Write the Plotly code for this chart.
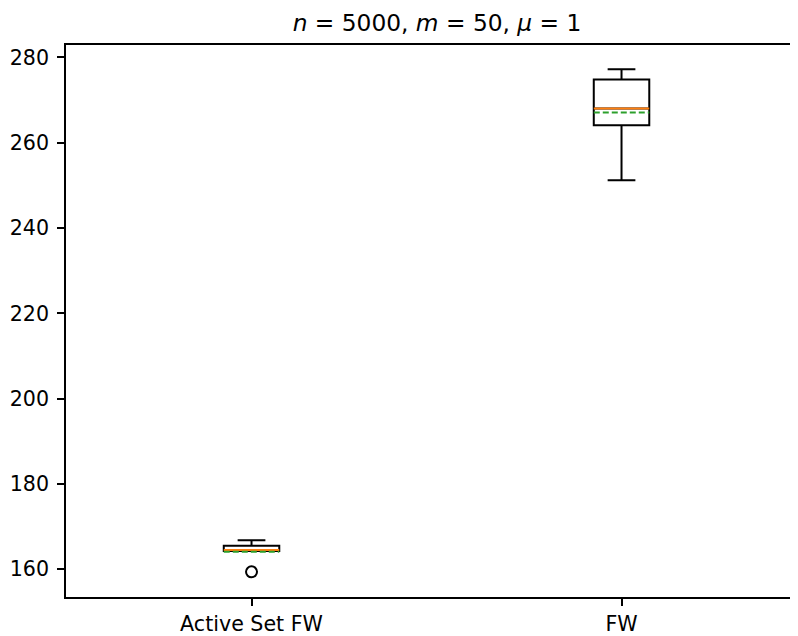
import plotly.graph_objects as go

# Data
categories = ["Active Set FW", "FW"]
positions = [1, 2]
q1 = [164.3, 264.1]
median = [164.5, 268.0]
q3 = [165.5, 274.8]
lower = [164.3, 251.2]
upper = [166.8, 277.2]
means = [164.1, 267.1]
outlier_pos = [1]
outlier_val = [159.4]
y_ticks = [160, 180, 200, 220, 240, 260, 280]

BOX_W = 0.15
FONT = "DejaVu Sans"

# The page body has an 8px default margin, so the figure is drawn 8px smaller
W, H = 790, 628
L, T, B = 58, 37, 39
PX_PER_UNIT = 370.0
X0 = 0.4986
X1 = X0 + (W - L) / PX_PER_UNIT

fig = go.Figure()

for i, p in enumerate(positions):
    fig.add_trace(go.Box(
        x=[p], q1=[q1[i]], median=[median[i]], q3=[q3[i]],
        lowerfence=[lower[i]], upperfence=[upper[i]],
        width=BOX_W, whiskerwidth=0.5,
        line=dict(color="black", width=2),
        fillcolor="rgba(0,0,0,0)",
        boxpoints=False, showlegend=False, hoverinfo="skip",
    ))
    fig.add_trace(go.Scatter(
        x=[p - BOX_W / 2, p + BOX_W / 2], y=[median[i], median[i]],
        mode="lines", line=dict(color="#ff7f0e", width=2),
        showlegend=False, hoverinfo="skip",
    ))
    fig.add_trace(go.Scatter(
        x=[p - BOX_W / 2, p + BOX_W / 2], y=[means[i], means[i]],
        mode="lines", line=dict(color="#2ca02c", width=2, dash="6px,3px"),
        showlegend=False, hoverinfo="skip",
    ))

fig.add_trace(go.Scatter(
    x=outlier_pos, y=outlier_val, mode="markers",
    marker=dict(symbol="circle-open", size=11, color="black", line=dict(width=2)),
    showlegend=False, hoverinfo="skip",
))

fig.update_layout(
    width=W, height=H,
    margin=dict(l=L, r=0, t=T, b=B, autoexpand=False),
    paper_bgcolor="white", plot_bgcolor="white",
    font=dict(family=FONT, size=20.6, color="black"),
    title=dict(
        text="<i>n</i> = 5000, <i>m</i> = 50, <i>μ</i> = 1",
        x=(437 - 8 - L) / (W - L), xanchor="center", xref="paper",
        y=1 - 15 / H, yanchor="middle", yref="container",
        font=dict(family=FONT, size=23.3, color="black"),
        automargin=False,
    ),
    xaxis=dict(
        range=[X0, X1], automargin=False,
        tickmode="array", tickvals=positions, ticktext=categories,
        ticks="outside", ticklen=7, tickwidth=1.6, tickcolor="black",
        showline=True, linecolor="black", linewidth=1.6, mirror=True,
        showgrid=False, zeroline=False, ticklabelstandoff=0,
    ),
    yaxis=dict(
        range=[153.5, 282.9], automargin=False,
        tickmode="array", tickvals=y_ticks,
        ticks="outside", ticklen=7, tickwidth=1.6, tickcolor="black",
        showline=True, linecolor="black", linewidth=1.6, mirror=False,
        showgrid=False, zeroline=False, ticklabelstandoff=4,
    ),
)

fig.write_html("out.html")
